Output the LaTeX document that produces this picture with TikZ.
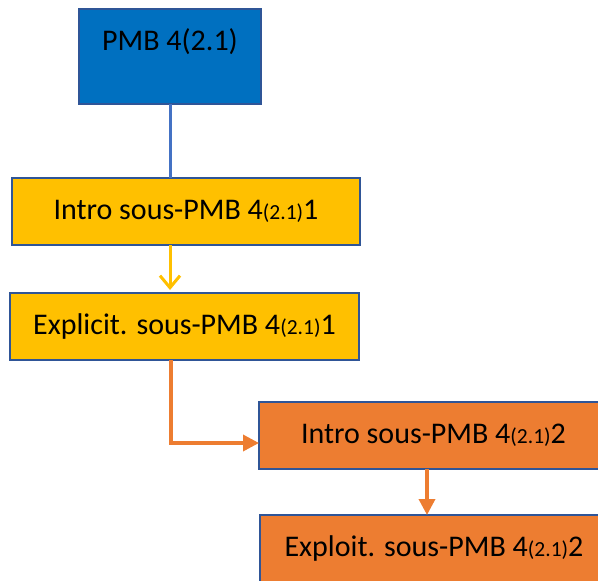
\documentclass[tikz,border=0pt]{standalone}
\usepackage{fontspec}
\setmainfont{Carlito}
\usetikzlibrary{arrows.meta,calc}
\definecolor{bluefill}{HTML}{0070C0}
\definecolor{edgec}{HTML}{2F5597}
\definecolor{bluel}{HTML}{4472C4}
\definecolor{yel}{HTML}{FFC000}
\definecolor{ora}{HTML}{ED7D31}
\newcommand{\smallpar}[1]{{\fontsize{21.5}{21.5}\selectfont #1}}
\begin{document}
\begin{tikzpicture}[x=1pt,y=-1pt,
  box/.style={draw=edgec, line width=2.2pt, rectangle, anchor=north west,
    inner sep=0pt, outer sep=0pt, font=\fontsize{30}{30}\selectfont},
  conn/.style={line width=3pt}]
\useasboundingbox (0,0) rectangle (598,581);
\clip (0,0) rectangle (598,581);
% connectors
\coordinate (bend) at (171,443);
\coordinate (dx) at (427,0);
% boxes
\node[box, fill=bluefill, minimum width=182pt, minimum height=95pt] (pmb) at (79,9) {};
\node[anchor=base, font=\fontsize{30}{30}\selectfont, inner sep=0pt] (pmbt) at (170,50) {PMB 4(2.1)};
\node[box, fill=yel, minimum width=348pt, minimum height=67pt] (i1) at (12,178) {Intro sous-PMB 4\smallpar{(2.1)}1};
\node[box, fill=yel, minimum width=349pt, minimum height=67pt] (e1) at (10,293) {Explicit. sous-PMB 4\smallpar{(2.1)}1};
\node[box, fill=ora, minimum width=349pt, minimum height=67pt] (i2) at (259,402) {Intro sous-PMB 4\smallpar{(2.1)}2};
\node[box, fill=ora, minimum width=348pt, minimum height=67pt] (e2) at (260,515) {Exploit. sous-PMB 4\smallpar{(2.1)}2};
\draw[conn, bluel] (pmb.south) -- (pmb.south |- i1.north);
\draw[conn, yel, -{Straight Barb[length=12pt,width=20pt,line width=3pt]}] (i1.south -| pmb.south) -- ($(e1.north -| pmb.south)+(0,-3)$);
\draw[conn, ora, line width=3.5pt, -{Triangle[length=16pt,width=16pt]}] (e1.south -| bend) -- (bend) -- (i2.west |- bend);
\draw[conn, ora, line width=3.5pt, -{Triangle[length=16pt,width=16pt]}] (i2.south -| dx) -- (e2.north -| dx);
\end{tikzpicture}
\end{document}
